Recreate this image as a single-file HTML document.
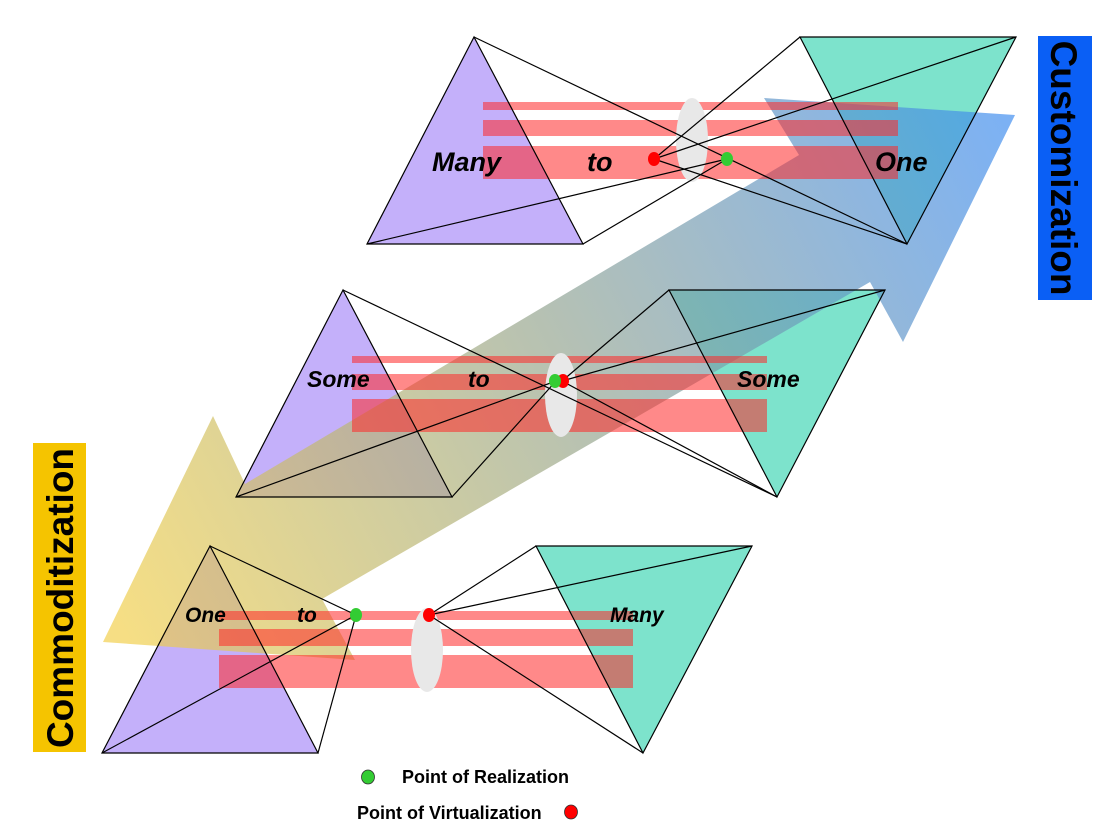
<!DOCTYPE html>
<html><head><meta charset="utf-8"><style>
html,body{margin:0;padding:0;background:#fff;}
svg{display:block;}
text{font-family:"Liberation Sans",sans-serif;font-weight:bold;}
</style></head><body>
<svg width="1100" height="829" viewBox="0 0 1100 829" xmlns="http://www.w3.org/2000/svg">
<defs>
<linearGradient id="g" x1="103" y1="600" x2="1015" y2="120" gradientUnits="userSpaceOnUse">
<stop offset="0" stop-color="#f2cf4a"/>
<stop offset="0.5" stop-color="#94a48e"/>
<stop offset="1" stop-color="#3d8cf0"/>
</linearGradient>
</defs>
<g fill="#c4b0fa">
<polygon points="474,37 367,244 583,244"/>
<polygon points="343,290 236,497 452,497"/>
<polygon points="210,546 102,753 318,753"/>
</g>
<g fill="#7de3cc">
<polygon points="800,37 1016,37 907,244"/>
<polygon points="669,290 885,290 777,497"/>
<polygon points="536,546 752,546 643,753"/>
</g>
<polygon points="103,642 213,416 245,484 799,155 764,98 1015,115 903,342 870,282 322,599 355,660" fill="url(#g)" opacity="0.68"/>
<g fill="rgba(255,40,40,0.55)">
<rect x="483" y="102" width="415" height="8"/>
<rect x="483" y="120" width="415" height="16"/>
<rect x="483" y="146" width="415" height="33"/>
<rect x="352" y="356" width="415" height="7"/>
<rect x="352" y="374" width="415" height="16"/>
<rect x="352" y="399" width="415" height="33"/>
<rect x="219" y="611" width="414" height="9"/>
<rect x="219" y="629" width="414" height="17"/>
<rect x="219" y="655" width="414" height="33"/>
</g>
<g fill="#e8e8e8">
<ellipse cx="692" cy="140" rx="16" ry="42"/>
<ellipse cx="561" cy="395" rx="16" ry="42"/>
<ellipse cx="427" cy="650" rx="16" ry="42"/>
</g>
<g stroke="#000" stroke-width="1.2" fill="none">
<polygon points="474,37 367,244 583,244"/>
<polygon points="343,290 236,497 452,497"/>
<polygon points="210,546 102,753 318,753"/>
<polygon points="800,37 1016,37 907,244"/>
<polygon points="669,290 885,290 777,497"/>
<polygon points="536,546 752,546 643,753"/>
<line x1="474" y1="37" x2="907" y2="244"/>
<line x1="367" y1="244" x2="727" y2="159"/>
<line x1="583" y1="244" x2="727" y2="159"/>
<line x1="654" y1="159" x2="800" y2="37"/>
<line x1="654" y1="159" x2="1016" y2="37"/>
<line x1="654" y1="159" x2="907" y2="244"/>
<line x1="343" y1="290" x2="777" y2="497"/>
<line x1="236" y1="497" x2="556" y2="381"/>
<line x1="452" y1="497" x2="556" y2="381"/>
<line x1="562" y1="381" x2="669" y2="290"/>
<line x1="562" y1="381" x2="885" y2="290"/>
<line x1="562" y1="381" x2="777" y2="497"/>
<line x1="210" y1="546" x2="356" y2="615"/>
<line x1="102" y1="753" x2="356" y2="615"/>
<line x1="318" y1="753" x2="356" y2="615"/>
<line x1="429" y1="615" x2="536" y2="546"/>
<line x1="429" y1="615" x2="752" y2="546"/>
<line x1="429" y1="615" x2="643" y2="753"/>
</g>
<g>
<ellipse cx="654" cy="159" rx="6" ry="7" fill="#f00"/>
<ellipse cx="727" cy="159" rx="6" ry="7" fill="#3c3"/>
<ellipse cx="563" cy="381" rx="6" ry="7" fill="#f00"/>
<ellipse cx="555" cy="381" rx="6" ry="7" fill="#3c3"/>
<ellipse cx="356" cy="615" rx="6" ry="7" fill="#3c3"/>
<ellipse cx="429" cy="615" rx="6" ry="7" fill="#f00"/>
</g>
<g font-style="italic" fill="#000">
<text x="432" y="171" font-size="27">Many</text>
<text x="587" y="171" font-size="27">to</text>
<text x="875" y="171" font-size="27">One</text>
<text x="307" y="387" font-size="23">Some</text>
<text x="468" y="387" font-size="23">to</text>
<text x="737" y="387" font-size="23">Some</text>
<text x="185" y="622" font-size="21">One</text>
<text x="297" y="622" font-size="21">to</text>
<text x="610" y="622" font-size="21">Many</text>
</g>
<rect x="1038" y="36" width="54" height="264" fill="#0a5ff5"/>
<text transform="translate(1051,168) rotate(90)" font-size="37" text-anchor="middle" fill="#000">Customization</text>
<rect x="33" y="443" width="53" height="309" fill="#f5c400"/>
<text transform="translate(73,598) rotate(-90)" font-size="37" text-anchor="middle" fill="#000">Commoditization</text>
<ellipse cx="368" cy="777" rx="6.5" ry="7" fill="#3c3" stroke="#333" stroke-width="0.8"/>
<text x="402" y="783" font-size="18">Point of Realization</text>
<text x="357" y="819" font-size="18">Point of Virtualization</text>
<ellipse cx="571" cy="812" rx="6.5" ry="7" fill="#f00" stroke="#333" stroke-width="0.8"/>
</svg>
</body></html>
